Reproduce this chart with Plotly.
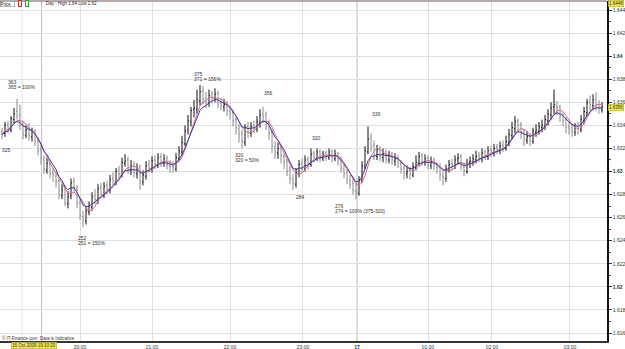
import plotly.graph_objects as go
import pandas as pd

# ---- OHLC data (GBP/USD intraday bars) ----
bar_open = [
1.6335,1.6333,1.6341,1.6336,1.6345,1.6352,1.6349,1.6341,1.6331,1.6337,
1.6330,1.6335,1.6327,1.6319,1.6310,1.6301,1.6306,1.6299,1.6296,1.6292,
1.6279,1.6285,1.6272,1.6279,1.6291,1.6285,1.6273,1.6261,1.6257,1.6265,
1.6269,1.6279,1.6275,1.6286,1.6279,1.6288,1.6284,1.6294,1.6291,1.6301,
1.6297,1.6307,1.6310,1.6301,1.6306,1.6298,1.6304,1.6291,1.6296,1.6306,
1.6302,1.6310,1.6305,1.6313,1.6307,1.6312,1.6305,1.6304,1.6302,1.6311,
1.6317,1.6324,1.6336,1.6343,1.6354,1.6354,1.6361,1.6370,1.6364,1.6359,
1.6367,1.6363,1.6368,1.6359,1.6356,1.6359,1.6352,1.6351,1.6345,1.6337,
1.6333,1.6325,1.6339,1.6333,1.6340,1.6337,1.6342,1.6350,1.6349,1.6342,
1.6334,1.6321,1.6316,1.6321,1.6313,1.6309,1.6301,1.6293,1.6289,1.6298,
1.6307,1.6302,1.6311,1.6306,1.6316,1.6311,1.6318,1.6311,1.6316,1.6312,
1.6318,1.6311,1.6316,1.6311,1.6302,1.6299,1.6292,1.6290,1.6283,1.6281,
1.6292,1.6304,1.6317,1.6329,1.6323,1.6313,1.6320,1.6312,1.6317,1.6310,
1.6315,1.6309,1.6312,1.6307,1.6303,1.6298,1.6301,1.6297,1.6303,1.6307,
1.6314,1.6308,1.6312,1.6305,1.6310,1.6304,1.6304,1.6296,1.6294,1.6301,
1.6307,1.6305,1.6311,1.6313,1.6304,1.6300,1.6308,1.6308,1.6310,1.6314,
1.6311,1.6317,1.6313,1.6319,1.6316,1.6321,1.6318,1.6323,1.6320,1.6325,
1.6331,1.6337,1.6344,1.6341,1.6334,1.6327,1.6331,1.6326,1.6334,1.6335,
1.6338,1.6339,1.6344,1.6349,1.6356,1.6357,1.6356,1.6349,1.6345,1.6339,
1.6338,1.6334,1.6339,1.6336,1.6344,1.6351,1.6361,1.6357,1.6363,1.6358,
1.6354]

bar_high = [
1.6338,1.6343,1.6344,1.6348,1.6355,1.6363,1.6358,1.6344,1.6340,1.6342,
1.6338,1.6337,1.6330,1.6323,1.6314,1.6312,1.6309,1.6303,1.6300,1.6294,
1.6289,1.6288,1.6283,1.6294,1.6295,1.6288,1.6276,1.6266,1.6270,1.6274,
1.6282,1.6285,1.6289,1.6290,1.6291,1.6292,1.6297,1.6300,1.6303,1.6305,
1.6312,1.6315,1.6313,1.6310,1.6309,1.6307,1.6306,1.6301,1.6309,1.6310,
1.6313,1.6314,1.6316,1.6316,1.6315,1.6314,1.6310,1.6309,1.6316,1.6322,
1.6331,1.6340,1.6349,1.6356,1.6362,1.6371,1.6375,1.6374,1.6369,1.6371,
1.6370,1.6372,1.6370,1.6364,1.6363,1.6361,1.6357,1.6354,1.6348,1.6341,
1.6336,1.6341,1.6343,1.6343,1.6344,1.6348,1.6354,1.6356,1.6352,1.6345,
1.6337,1.6326,1.6325,1.6323,1.6316,1.6311,1.6305,1.6298,1.6303,1.6310,
1.6311,1.6314,1.6313,1.6320,1.6318,1.6320,1.6319,1.6318,1.6318,1.6320,
1.6319,1.6319,1.6317,1.6313,1.6306,1.6302,1.6297,1.6294,1.6290,1.6296,
1.6309,1.6322,1.6339,1.6333,1.6327,1.6323,1.6322,1.6320,1.6319,1.6318,
1.6317,1.6316,1.6314,1.6310,1.6305,1.6305,1.6304,1.6308,1.6314,1.6317,
1.6316,1.6315,1.6314,1.6313,1.6312,1.6308,1.6307,1.6300,1.6306,1.6310,
1.6311,1.6314,1.6316,1.6315,1.6308,1.6311,1.6313,1.6315,1.6318,1.6317,
1.6320,1.6319,1.6322,1.6322,1.6324,1.6324,1.6326,1.6327,1.6331,1.6337,
1.6343,1.6348,1.6346,1.6343,1.6337,1.6335,1.6333,1.6338,1.6341,1.6343,
1.6345,1.6349,1.6354,1.6360,1.6371,1.6361,1.6358,1.6351,1.6347,1.6343,
1.6341,1.6342,1.6343,1.6349,1.6356,1.6363,1.6366,1.6367,1.6369,1.6362,
1.6360]

bar_low = [
1.6328,1.6330,1.6333,1.6334,1.6342,1.6345,1.6336,1.6328,1.6329,1.6327,
1.6326,1.6322,1.6314,1.6306,1.6298,1.6298,1.6294,1.6291,1.6286,1.6276,
1.6276,1.6270,1.6268,1.6276,1.6281,1.6268,1.6258,1.6252,1.6254,1.6262,
1.6266,1.6272,1.6272,1.6277,1.6277,1.6281,1.6281,1.6288,1.6288,1.6294,
1.6295,1.6304,1.6298,1.6297,1.6295,1.6294,1.6284,1.6288,1.6293,1.6299,
1.6299,1.6302,1.6303,1.6304,1.6304,1.6302,1.6299,1.6299,1.6300,1.6309,
1.6314,1.6322,1.6332,1.6339,1.6347,1.6350,1.6357,1.6358,1.6355,1.6356,
1.6359,1.6360,1.6355,1.6353,1.6352,1.6348,1.6345,1.6339,1.6332,1.6325,
1.6320,1.6322,1.6329,1.6330,1.6333,1.6334,1.6338,1.6342,1.6336,1.6327,
1.6316,1.6311,1.6311,1.6307,1.6302,1.6296,1.6289,1.6284,1.6286,1.6295,
1.6299,1.6300,1.6302,1.6304,1.6308,1.6309,1.6308,1.6309,1.6309,1.6310,
1.6308,1.6309,1.6305,1.6299,1.6294,1.6289,1.6285,1.6280,1.6276,1.6279,
1.6290,1.6302,1.6315,1.6317,1.6310,1.6310,1.6309,1.6308,1.6307,1.6307,
1.6306,1.6305,1.6303,1.6298,1.6293,1.6294,1.6293,1.6295,1.6301,1.6305,
1.6305,1.6305,1.6302,1.6302,1.6301,1.6298,1.6292,1.6288,1.6291,1.6299,
1.6301,1.6302,1.6306,1.6301,1.6296,1.6298,1.6303,1.6305,1.6307,1.6308,
1.6308,1.6310,1.6310,1.6313,1.6313,1.6315,1.6315,1.6317,1.6318,1.6322,
1.6328,1.6333,1.6334,1.6328,1.6322,1.6324,1.6322,1.6324,1.6330,1.6332,
1.6334,1.6336,1.6340,1.6345,1.6350,1.6349,1.6343,1.6339,1.6333,1.6332,
1.6330,1.6331,1.6332,1.6334,1.6341,1.6348,1.6352,1.6353,1.6352,1.6350,
1.6351]

bar_close = [
1.6332,1.6340,1.6337,1.6346,1.6350,1.6348,1.6340,1.6332,1.6336,1.6331,
1.6334,1.6326,1.6318,1.6311,1.6302,1.6307,1.6298,1.6297,1.6291,1.6280,
1.6284,1.6273,1.6278,1.6290,1.6286,1.6272,1.6262,1.6258,1.6266,1.6270,
1.6278,1.6276,1.6285,1.6280,1.6287,1.6285,1.6293,1.6292,1.6300,1.6298,
1.6308,1.6309,1.6302,1.6305,1.6299,1.6303,1.6292,1.6297,1.6305,1.6303,
1.6309,1.6306,1.6312,1.6308,1.6311,1.6306,1.6304,1.6303,1.6312,1.6318,
1.6325,1.6335,1.6344,1.6353,1.6355,1.6362,1.6369,1.6363,1.6360,1.6366,
1.6364,1.6367,1.6360,1.6357,1.6358,1.6353,1.6350,1.6344,1.6338,1.6332,
1.6326,1.6338,1.6334,1.6339,1.6338,1.6343,1.6349,1.6348,1.6341,1.6333,
1.6322,1.6317,1.6320,1.6314,1.6308,1.6300,1.6294,1.6290,1.6299,1.6306,
1.6303,1.6310,1.6307,1.6315,1.6312,1.6317,1.6312,1.6315,1.6313,1.6317,
1.6312,1.6315,1.6310,1.6303,1.6298,1.6293,1.6289,1.6284,1.6282,1.6293,
1.6305,1.6318,1.6328,1.6322,1.6314,1.6319,1.6313,1.6316,1.6311,1.6314,
1.6310,1.6311,1.6308,1.6302,1.6299,1.6300,1.6298,1.6304,1.6308,1.6313,
1.6309,1.6311,1.6306,1.6309,1.6305,1.6303,1.6297,1.6295,1.6302,1.6306,
1.6306,1.6310,1.6312,1.6305,1.6301,1.6307,1.6309,1.6311,1.6313,1.6312,
1.6316,1.6314,1.6318,1.6317,1.6320,1.6319,1.6322,1.6321,1.6326,1.6332,
1.6338,1.6343,1.6340,1.6333,1.6328,1.6330,1.6327,1.6335,1.6336,1.6339,
1.6340,1.6345,1.6350,1.6355,1.6358,1.6355,1.6348,1.6344,1.6338,1.6337,
1.6335,1.6338,1.6337,1.6345,1.6352,1.6360,1.6358,1.6362,1.6357,1.6355,
1.6356]

time_labels = ["20:00", "21:00", "22:00", "23:00", "<b>17</b>", "01:00", "02:00", "03:00"]
time_bar_index = [26, 50, 76, 100.33, 118.33, 142, 163.33, 189.33]

price_ticks = [1.616, 1.618, 1.62, 1.622, 1.624, 1.626, 1.628, 1.63,
               1.632, 1.634, 1.636, 1.638, 1.64, 1.642, 1.644]
price_tick_text = ["1.616", "1.618", "<b>1.62</b>", "1.622", "1.624", "1.626", "1.628", "<b>1.63</b>",
                   "1.632", "1.634", "1.636", "1.638", "<b>1.64</b>", "1.642", "1.644"]

# level annotations: (text, left px, center-y px)
level_notes = [
    ("363", 6, 82), ("365 = 100%", 6, 87),
    ("325", 0, 150),
    ("252", 76, 238), ("251 = 150%", 76, 243),
    ("375", 192, 74), ("371 = 156%", 192, 79),
    ("356", 262, 93),
    ("320", 233, 155), ("320 = 50%", 233, 160),
    ("320", 310, 138),
    ("284", 294, 197),
    ("276", 333, 206), ("274 = 100% (375-320)", 333, 211),
    ("339", 370, 114),
]

idx = list(range(len(bar_close)))
close_s = pd.Series(bar_close)
ma_pink = close_s.rolling(5, min_periods=1).mean()
ma_blue = close_s.ewm(span=6, adjust=False).mean()

W, H = 625, 349
PL, PR, PT, PB = 0, 607, 1, 341   # plot area in pixels
FONT = "Liberation Sans"


def px_x(px):
    return (px - PL) / (PR - PL)


def px_y(py):
    return (PB - py) / (PB - PT)


fig = go.Figure()
fig.add_trace(go.Ohlc(
    x=idx, open=bar_open, high=bar_high, low=bar_low, close=bar_close,
    increasing=dict(line=dict(color="#111111", width=1)),
    decreasing=dict(line=dict(color="#8a8a8a", width=1)),
    tickwidth=0.35, hoverinfo="skip", showlegend=False,
))
fig.add_trace(go.Scatter(x=idx, y=ma_pink, mode="lines",
                         line=dict(color="#d8708e", width=1), hoverinfo="skip"))
fig.add_trace(go.Scatter(x=idx, y=ma_blue, mode="lines",
                         line=dict(color="#40349a", width=1), hoverinfo="skip"))

x0 = -2 / 3
x1 = x0 + (PR - PL) / 3

shapes = []
# extra vertical guide lines
for pxv, col in [(22, "#e2e2e2"), (41.6, "#bdbdbd")]:
    xv = x0 + pxv / 3
    shapes.append(dict(type="line", xref="x", yref="paper", x0=xv, x1=xv, y0=0, y1=1,
                       line=dict(color=col, width=1), layer="below"))
# darker day separator
shapes.append(dict(type="line", xref="x", yref="paper", x0=118.33, x1=118.33, y0=0, y1=1,
                   line=dict(color="#b4b4b4", width=1), layer="below"))
# top border line
shapes.append(dict(type="line", xref="paper", yref="paper", x0=0, x1=1, y0=1, y1=1,
                   line=dict(color="#9c8f92", width=1.5)))

annotations = []
for txt, px, py in level_notes:
    annotations.append(dict(text=txt, xref="paper", yref="paper", x=px_x(px), y=px_y(py),
                            xanchor="left", yanchor="middle", showarrow=False,
                            font=dict(family=FONT, size=5, color="#333333")))
# header
annotations.append(dict(text="Price   ", xref="paper", yref="paper", x=px_x(0), y=px_y(4),
                        xanchor="left", yanchor="middle", showarrow=False,
                        bgcolor="white", bordercolor="#777777", borderwidth=0.5, borderpad=0,
                        font=dict(family=FONT, size=4.5, color="#222222")))
annotations.append(dict(text="Day : High 1.64 Low 1.62", xref="paper", yref="paper",
                        x=px_x(44), y=px_y(4), xanchor="left", yanchor="middle", showarrow=False,
                        font=dict(family=FONT, size=4.5, color="#222222")))
for pxi, col in [(18, "#cc3333"), (25, "#339933")]:
    annotations.append(dict(text="&nbsp;&nbsp;", xref="paper", yref="paper", x=px_x(pxi), y=px_y(4),
                            xanchor="left", yanchor="middle", showarrow=False,
                            bgcolor="#eeeeee", bordercolor=col, borderwidth=1, borderpad=0,
                            font=dict(family=FONT, size=4)))
# footer
annotations.append(dict(text="© IT-Finance.com  Data is Indicative", xref="paper", yref="paper",
                        x=px_x(0), y=px_y(337.5), xanchor="left", yanchor="middle", showarrow=False,
                        font=dict(family=FONT, size=4.5, color="#333333")))
annotations.append(dict(text="16 Oct 2009 19:10:20", xref="paper", yref="paper",
                        x=px_x(34), y=px_y(345.5), xanchor="center", yanchor="middle", showarrow=False,
                        bgcolor="#f4f24a", bordercolor="#999933", borderwidth=0.5, borderpad=0.5,
                        font=dict(family=FONT, size=4.5, color="#222222")))
# right-side price boxes
for txt, py in [("1.6448", 3.5), ("1.6356", 107)]:
    annotations.append(dict(text=txt, xref="paper", yref="paper", x=px_x(616), y=px_y(py),
                            xanchor="center", yanchor="middle", showarrow=False,
                            bgcolor="#f4f24a", bordercolor="#999933", borderwidth=0.5, borderpad=0.5,
                            font=dict(family=FONT, size=4.5, color="#222222")))

y_bottom = 1.644 - (PB - 10) / 11536
y_top = 1.644 + (10 - PT) / 11536

fig.update_layout(
    width=W, height=H,
    margin=dict(l=PL, r=W - PR, t=PT, b=H - PB),
    paper_bgcolor="white", plot_bgcolor="white",
    showlegend=False,
    font=dict(family=FONT, size=5, color="#333333"),
    shapes=shapes, annotations=annotations,
    xaxis=dict(range=[x0, x1], tickmode="array", tickvals=time_bar_index, ticktext=time_labels,
               showgrid=True, gridcolor="#e0e0e0", gridwidth=1, zeroline=False,
               showline=True, linecolor="#333333", linewidth=2,
               ticks="", tickfont=dict(family=FONT, size=5, color="#333333"),
               rangeslider=dict(visible=False), fixedrange=True),
    yaxis=dict(range=[y_bottom, y_top], side="right", tickmode="array", tickvals=price_ticks,
               ticktext=price_tick_text, showgrid=True, gridcolor="#e0e0e0", gridwidth=1,
               zeroline=False, showline=True, linecolor="#111111", linewidth=1.5,
               ticks="outside", ticklen=3, tickcolor="#333333",
               minor=dict(dtick=0.001, tick0=1.616, ticks="outside", ticklen=2,
                          tickcolor="#555555", showgrid=False),
               tickfont=dict(family=FONT, size=5, color="#333333"), fixedrange=True),
)

fig.write_html("out.html")
